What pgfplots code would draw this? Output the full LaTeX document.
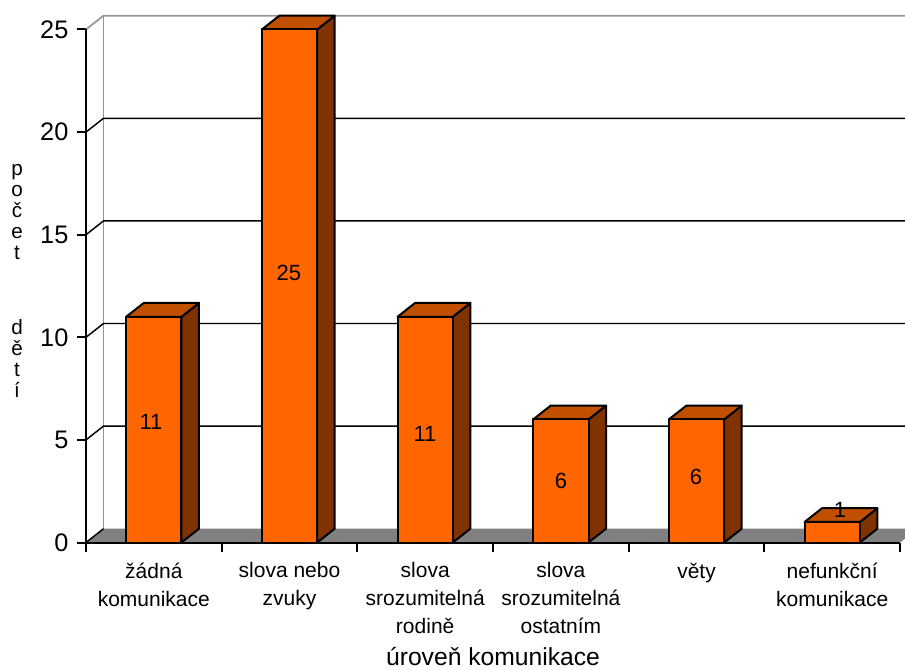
\documentclass[border=0pt]{standalone}
\usepackage{pgfplots}
\pgfplotsset{compat=1.18}
\usepackage{pgfplotstable}
\usepackage{fontspec}
\setmainfont{Liberation Sans}
\definecolor{barfront}{HTML}{FF6600}
\definecolor{bartop}{HTML}{C05000}
\definecolor{barside}{HTML}{803300}
\definecolor{floorgray}{HTML}{808080}
\definecolor{wallgray}{HTML}{969696}

\pgfplotstableread{
x v
0.5 11
1.5 25
2.5 11
3.5 6
4.5 6
5.5 1
}\data

\pgfplotstableread{
x y lab
0.479 5.87 11
1.496 13.13 25
2.499 5.29 11
3.501 3.0 6
4.496 3.19 6
5.558 1.58 1
}\labels

\begin{document}
\begin{tikzpicture}
\useasboundingbox (0,0) rectangle (678.75pt,501.75pt);
\begin{axis}[
  at={(64.5pt,94.875pt)}, anchor=south west,
  scale only axis, width=614.25pt, height=395.1pt,
  xmin=0, xmax=6.0367, ymin=0, ymax=25.672,
  clip=false,
  axis lines*=left, axis line style={draw=none},
  tick align=outside,
  major tick length=7pt,
  tick style={black, line width=1.5pt},
  /pgf/number format/assume math mode=true,
  ytick={0,5,...,25},
  yticklabel style={font=\fontsize{19}{23}\selectfont, inner sep=0pt, xshift=-6pt},
  xtick={0,1,2,3,4,5,6}, xticklabels={{},{},{},{},{},{},{}},
  extra x ticks={0.5,1.5,2.5,3.5,4.5,5.5},
  extra x tick labels={žádná\\komunikace, slova nebo\\zvuky, slova\\srozumitelná\\rodině, slova\\srozumitelná\\ostatním, věty, nefunkční\\komunikace},
  extra x tick style={major tick length=0pt, tick style={draw=none}},
  xticklabel style={font=\fontsize{15.75}{21}\selectfont, align=center, anchor=north, inner sep=0pt, yshift=-15pt},
  xlabel={úroveň komunikace},
  xlabel style={at={(axis description cs:0.497,-0.234)}, anchor=base, font=\fontsize{18.5}{22}\selectfont, inner sep=0pt},
]
% floor
\addplot[fill=floorgray, draw=none] coordinates {(0,0) (6,0) (6.0367,0.193) (6.0367,0.672) (0.129,0.672)} -- cycle;
% walls
\addplot[wallgray, line width=1.3pt] coordinates {(0.129,0.672) (0.129,25.672)};
\addplot[wallgray, line width=1.3pt] coordinates {(0,25) (0.129,25.672) (6.0367,25.672)};
% gridlines
\addplot[black, line width=1.1pt] coordinates {(0,0) (0.129,0.672)};
\addplot[black, line width=1.1pt] coordinates {(0,5) (0.129,5.672) (6.0367,5.672)};
\addplot[black, line width=1.1pt] coordinates {(0,10) (0.129,10.672) (6.0367,10.672)};
\addplot[black, line width=1.1pt] coordinates {(0,15) (0.129,15.672) (6.0367,15.672)};
\addplot[black, line width=1.1pt] coordinates {(0,20) (0.129,20.672) (6.0367,20.672)};
% bars
\pgfplotsinvokeforeach{0,...,5}{
  \pgfplotstablegetelem{#1}{v}\of\data
  \pgfmathsetmacro\v{\pgfplotsretval}
  \pgfmathsetmacro\vt{\v+0.672}
  \pgfmathsetmacro\xl{#1+0.5-0.2038}
  \pgfmathsetmacro\xr{#1+0.5+0.2038}
  \pgfmathsetmacro\xlb{\xl+0.129}
  \pgfmathsetmacro\xrb{\xr+0.129}
  \edef\temp{\noexpand\addplot[fill=barside, draw=black, line width=1.5pt, line join=round] coordinates {(\xr,0) (\xrb,0.672) (\xrb,\vt) (\xr,\v)} -- cycle;
    \noexpand\addplot[fill=bartop, draw=black, line width=1.5pt, line join=round] coordinates {(\xl,\v) (\xlb,\vt) (\xrb,\vt) (\xr,\v)} -- cycle;
    \noexpand\addplot[fill=barfront, draw=black, line width=1.5pt, line join=round] coordinates {(\xl,0) (\xl,\v) (\xr,\v) (\xr,0)} -- cycle;}
  \temp
}
% axis lines
\addplot[black, line width=1.5pt] coordinates {(0,25) (0,0) (6,0)};
% value labels
\addplot[draw=none, mark=none, nodes near coords, point meta=explicit symbolic,
  nodes near coords style={anchor=center, inner sep=0pt, font=\fontsize{16.5}{19}\selectfont}]
  table[x=x, y=y, meta=lab] {\labels};
\end{axis}
\node[font=\fontsize{15.5}{15.75}\selectfont, align=center, inner sep=0pt] at (12.75pt,342.75pt) {p\\o\\č\\e\\t};
\node[font=\fontsize{15.5}{15.75}\selectfont, align=center, inner sep=0pt] at (12.75pt,232.5pt) {d\\ě\\t\\í};
\end{tikzpicture}
\end{document}
